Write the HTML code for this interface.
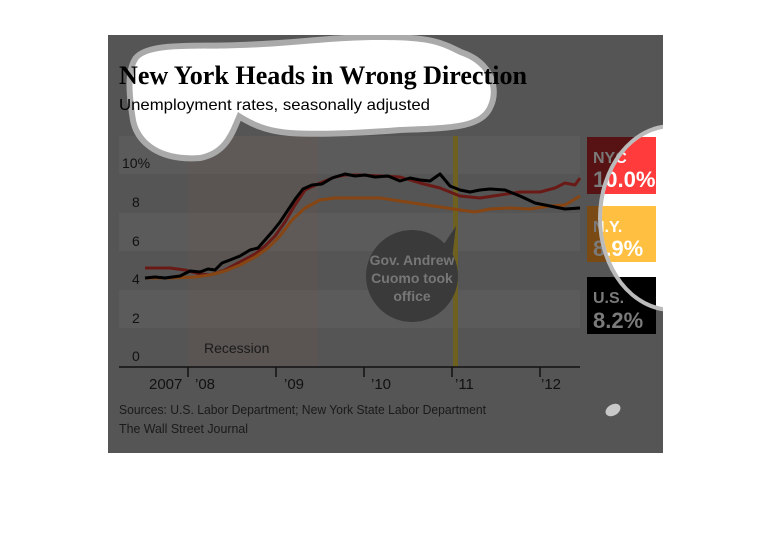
<!DOCTYPE html>
<html><head><style>
html,body{margin:0;padding:0;background:#fff;}
svg{display:block;}
</style></head><body>
<svg width="770" height="548" viewBox="0 0 770 548" xmlns="http://www.w3.org/2000/svg" font-family="Liberation Sans, sans-serif">
<defs>
<clipPath id="rb"><ellipse cx="672" cy="218" rx="70" ry="90"/></clipPath>
<clipPath id="panel"><rect x="108" y="35" width="555" height="418"/></clipPath>
</defs>
<rect width="770" height="548" fill="#fff"/>
<g clip-path="url(#panel)">
<rect x="108" y="35" width="555" height="418" fill="#555"/>
<rect x="119" y="136" width="461" height="38" fill="#5b5b5b"/>
<rect x="119" y="213" width="461" height="38" fill="#5b5b5b"/>
<rect x="119" y="290" width="461" height="38" fill="#5b5b5b"/>
<rect x="188" y="136" width="130" height="231" fill="rgba(120,90,70,0.17)"/>
<text x="204" y="353" font-size="14" fill="#1a1a1a">Recession</text>
<rect x="453" y="136" width="5" height="231" fill="#6e6120"/>
<path d="M440,250 L456,226 L452,258 Z" fill="#3a3a3a"/>
<circle cx="412" cy="276" r="46" fill="#3a3a3a"/>
<g font-size="14" font-weight="bold" fill="#777" text-anchor="middle">
<text x="412" y="265">Gov. Andrew</text>
<text x="412" y="283">Cuomo took</text>
<text x="412" y="301">office</text>
</g>
<g font-size="14" fill="#111">
<text x="122" y="168">10%</text>
<text x="132" y="207">8</text>
<text x="132" y="246">6</text>
<text x="132" y="284">4</text>
<text x="132" y="323">2</text>
<text x="132" y="361">0</text>
</g>
<g fill="none" stroke-width="3" stroke-linejoin="round">
<polyline stroke="#6a1a16" points="145,268 170,268 185,270 200,274 210,275 225,270 240,262 255,254 265,246 275,236 285,222 295,205 305,190 320,183 335,177 345,175 360,175 380,176 400,177 420,183 440,188 460,196 480,198 500,195 520,192 540,192 555,188 565,183 575,185 580,178"/>
<polyline stroke="#864512" points="145,278 170,278 195,277 210,275 225,271 240,265 255,257 268,248 280,236 292,220 305,208 320,200 335,198 360,198 380,198 400,201 420,204 440,207 460,210 475,212 490,209 510,208 530,209 550,206 565,205 580,196"/>
<polyline stroke="#000" points="145,278 155,277 165,278 180,276 190,271 200,272 208,269 215,270 222,263 230,260 240,256 250,250 258,248 265,240 272,232 280,222 288,210 296,198 303,189 312,185 322,184 332,178 345,174 355,176 365,175 375,177 388,176 400,181 410,178 420,180 430,181 440,174 450,186 460,190 470,192 480,190 490,189 505,190 520,196 535,203 550,206 565,209 580,208"/>
</g>
<line x1="119" y1="367" x2="580" y2="367" stroke="#111" stroke-width="1.5"/>
<g stroke="#111" stroke-width="1.5">
<line x1="188" y1="367" x2="188" y2="377"/>
<line x1="276" y1="367" x2="276" y2="377"/>
<line x1="364" y1="367" x2="364" y2="377"/>
<line x1="452" y1="367" x2="452" y2="377"/>
<line x1="540" y1="367" x2="540" y2="377"/>
</g>
<g font-size="15" fill="#111">
<text x="149" y="389">2007</text>
<text x="195" y="389">’08</text>
<text x="284" y="389">’09</text>
<text x="371" y="389">’10</text>
<text x="455" y="389">’11</text>
<text x="541" y="389">’12</text>
</g>
<g font-size="12.5" fill="#1a1a1a">
<text x="119" y="414" textLength="367" lengthAdjust="spacingAndGlyphs">Sources: U.S. Labor Department; New York State Labor Department</text>
<text x="119" y="433" textLength="129" lengthAdjust="spacingAndGlyphs">The Wall Street Journal</text>
</g>
<rect x="587" y="137" width="69" height="57" fill="#571313"/>
<rect x="587" y="206" width="69" height="56" fill="#7a4a14"/>
<rect x="587" y="277" width="69" height="57" fill="#000"/>
<g fill="#7a7a7a" font-weight="bold">
<text x="593" y="163" font-size="16">NYC</text>
<text x="593" y="187" font-size="22">10.0%</text>
<text x="593" y="232" font-size="16">N.Y.</text>
<text x="593" y="256" font-size="22">8.9%</text>
<text x="593" y="303" font-size="16">U.S.</text>
<text x="593" y="328" font-size="22">8.2%</text>
</g>
<ellipse cx="672" cy="218" rx="74" ry="94" fill="#bbb"/>
<g clip-path="url(#rb)">
<ellipse cx="672" cy="218" rx="70" ry="90" fill="#fff"/>
<rect x="587" y="137" width="69" height="57" fill="#ff3b3b"/>
<rect x="587" y="206" width="69" height="56" fill="#ffbf40"/>
<rect x="587" y="277" width="69" height="57" fill="#000"/>
<g fill="#fff" font-weight="bold">
<text x="593" y="163" font-size="16">NYC</text>
<text x="593" y="187" font-size="22">10.0%</text>
<text x="593" y="232" font-size="16">N.Y.</text>
<text x="593" y="256" font-size="22">8.9%</text>
<text x="593" y="303" font-size="16">U.S.</text>
<text x="593" y="328" font-size="22">8.2%</text>
</g>
</g>
<ellipse cx="613" cy="410" rx="8" ry="5.5" transform="rotate(-30 613 410)" fill="#c8c8c8"/>
<path d="M138,60 C150,45 200,50 240,48 C300,46 330,40 380,40 C430,40 440,45 460,55 C490,65 495,90 488,105 C480,125 450,125 400,127 C360,130 320,132 290,130 C265,128 250,120 238,112 C230,130 225,150 200,155 C160,158 140,140 136,120 C132,95 130,72 138,60 Z" fill="#fff" stroke="#aaa" stroke-width="12"/>
<path d="M138,60 C150,45 200,50 240,48 C300,46 330,40 380,40 C430,40 440,45 460,55 C490,65 495,90 488,105 C480,125 450,125 400,127 C360,130 320,132 290,130 C265,128 250,120 238,112 C230,130 225,150 200,155 C160,158 140,140 136,120 C132,95 130,72 138,60 Z" fill="#fff"/>
</g>
<text x="119" y="84" font-family="Liberation Serif, serif" font-weight="bold" font-size="26" fill="#000" textLength="408" lengthAdjust="spacingAndGlyphs">New York Heads in Wrong Direction</text>
<text x="119" y="110" font-size="16" fill="#000" textLength="311" lengthAdjust="spacingAndGlyphs">Unemployment rates, seasonally adjusted</text>
</svg>
</body></html>
